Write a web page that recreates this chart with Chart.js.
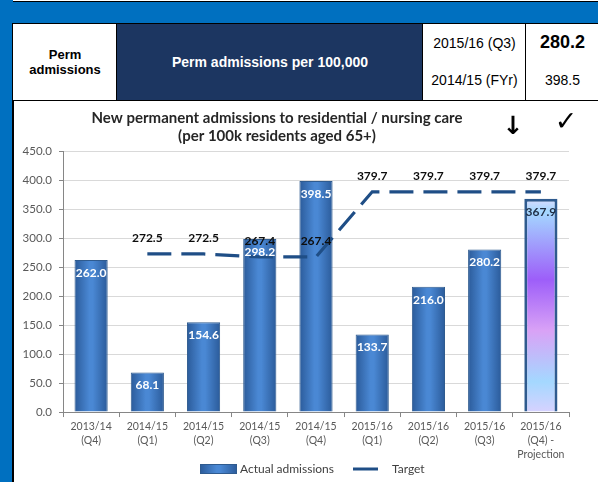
<!DOCTYPE html>
<html>
<head>
<meta charset="utf-8">
<script src="https://cdn.jsdelivr.net/npm/chart.js@4.4.1/dist/chart.umd.min.js"></script>
<style>
   body { margin: 0; width: 598px; height: 482px; overflow: hidden; background: #0070c0; font-family: 'Liberation Sans', Arial, sans-serif; position: relative; }
   .box { position: absolute; box-sizing: border-box; }
   .strip { left: 13px; top: 0; width: 585px; height: 2px; background: #fff; border-bottom: 1px solid #000; }
   .cell { top: 23px; height: 78px; border: 1.5px solid #000; display: flex; align-items: center; justify-content: center; text-align: center; }
   .c1 { left: 12px; width: 106px; background: #fff; font-weight: bold; font-size: 13px; line-height: 15px; color: #000; }
   .c2 { left: 116px; width: 308px; background: #1c3661; color: #fff; font-weight: bold; font-size: 14px; }
   .c3 { left: 422px; width: 105px; background: #fff; font-size: 14px; color: #000; }
   .c4 { left: 525px; width: 75px; background: #fff; color: #000; }
   .row { position: absolute; left: 0; right: 0; text-align: center; }
   .chartbox { left: 12px; top: 100px; width: 586px; height: 382px; background: #fff; border-left: 2px solid #000; border-top: 1px solid #000; }
   #wrap { position: absolute; left: 14px; top: 101px; width: 584px; height: 381px; }
</style>
</head>
<body>
<div class="box strip"></div>
<div class="box cell c1">Perm<br>admissions</div>
<div class="box cell c2">Perm admissions per 100,000</div>
<div class="box cell c3"><div class="row" style="top:11px">2015/16 (Q3)</div><div class="row" style="top:48px">2014/15 (FYr)</div></div>
<div class="box cell c4"><div class="row" style="top:8px;font-size:18px;font-weight:bold">280.2</div><div class="row" style="top:48px;font-size:14px">398.5</div></div>
<div class="box chartbox"></div>
<div id="wrap"><canvas id="chart" width="584" height="381"></canvas></div>
<script>
// chart values
const categories = [
   ['2013/14', '(Q4)'],
   ['2014/15', '(Q1)'],
   ['2014/15', '(Q2)'],
   ['2014/15', '(Q3)'],
   ['2014/15', '(Q4)'],
   ['2015/16', '(Q1)'],
   ['2015/16', '(Q2)'],
   ['2015/16', '(Q3)'],
   ['2015/16', '(Q4) -', 'Projection']
];
const actualAdmissions = [262.0, 68.1, 154.6, 298.2, 398.5, 133.7, 216.0, 280.2, 367.9];
const target = [null, 272.5, 272.5, 267.4, 267.4, 379.7, 379.7, 379.7, 379.7];
const projectionIndex = 8;
const titleLines = ['New permanent admissions to residential / nursing care', '(per 100k residents aged 65+)'];

const chartFont = "'Lato', 'Open Sans', sans-serif";
const navy = '#1f4e86';

function blueGradient(ctx, x0, x1) {
   let g = ctx.createLinearGradient(x0, 0, x1, 0);
   g.addColorStop(0, '#2b5b9a');
   g.addColorStop(0.45, '#4a88d4');
   g.addColorStop(0.55, '#4a88d4');
   g.addColorStop(1, '#2b5b9a');
   return g;
}

function projectionGradient(ctx, y0, y1) {
   let g = ctx.createLinearGradient(0, y0, 0, y1);
   g.addColorStop(0, '#dcdcff');
   g.addColorStop(0.06, '#a4d8ff');
   g.addColorStop(0.38, '#9d5ef9');
   g.addColorStop(0.62, '#d9a2f6');
   g.addColorStop(0.86, '#a4d8ff');
   g.addColorStop(1, '#d6d2ff');
   return g;
}

// gradients need the bar geometry, so they are set just before drawing
let barFillPlugin = {
   id: 'barfill',
   beforeDatasetsDraw: (chart) => {
      const ctx = chart.ctx;
      chart.getDatasetMeta(0).data.forEach((el, i) => {
         if (i === projectionIndex) {
            el.options.backgroundColor = projectionGradient(ctx, el.y, el.base);
         } else {
            el.options.backgroundColor = blueGradient(ctx, el.x - el.width / 2, el.x + el.width / 2);
         }
      });
   }
};

let valueLabelPlugin = {
   id: 'valuelabels',
   afterDatasetsDraw: (chart) => {
      const ctx = chart.ctx;
      ctx.save();
      ctx.textAlign = 'center';
      ctx.textBaseline = 'middle';
      ctx.font = 'bold 12px ' + chartFont;
      chart.getDatasetMeta(0).data.forEach((el, i) => {
         ctx.fillStyle = i === projectionIndex ? '#1f2d44' : '#ffffff';
         ctx.fillText(actualAdmissions[i].toFixed(1), el.x, el.y + 13);
      });
      ctx.fillStyle = '#0d0d0d';
      chart.getDatasetMeta(1).data.forEach((el, i) => {
         if (target[i] === null) return;
         ctx.fillText(target[i].toFixed(1), el.x, el.y - 16);
      });
      ctx.restore();
   }
};

let decorPlugin = {
   id: 'decor',
   afterDraw: (chart) => {
      const ctx = chart.ctx;
      ctx.save();
      // title
      ctx.fillStyle = '#262626';
      ctx.textAlign = 'center';
      ctx.textBaseline = 'middle';
      ctx.font = 'bold 15px ' + chartFont;
      ctx.fillText(titleLines[0], 263, 17);
      ctx.fillText(titleLines[1], 263, 35);
      ctx.fillStyle = '#000';
      ctx.font = 'bold 25px "DejaVu Sans"';
      ctx.fillText('\u2193', 499, 26);
      ctx.font = '27px "DejaVu Sans"';
      ctx.fillText('\u2713', 552, 22);

      // legend
      const ly = 368;
      ctx.fillStyle = blueGradient(ctx, 186, 223);
      ctx.fillRect(186, ly - 5, 37, 10);
      ctx.strokeStyle = '#2f5b8f';
      ctx.lineWidth = 1;
      ctx.strokeRect(186.5, ly - 4.5, 36, 9);
      ctx.strokeStyle = navy;
      ctx.lineWidth = 3;
      ctx.beginPath();
      ctx.moveTo(339, ly);
      ctx.lineTo(364, ly);
      ctx.stroke();
      ctx.fillStyle = '#404040';
      ctx.textAlign = 'left';
      ctx.font = '12px ' + chartFont;
      ctx.fillText('Actual admissions', 226, ly);
      ctx.fillText('Target', 378, ly);
      ctx.restore();
   }
};

new Chart(document.getElementById('chart'), {
   type: 'bar',
   data: {
      labels: categories,
      datasets: [{
         label: 'Actual admissions',
         data: actualAdmissions,
         backgroundColor: (c) => c.dataIndex === projectionIndex ? '#b0b8ff' : '#3f7bc6',
         borderColor: '#2f5b8f',
         borderWidth: (c) => c.dataIndex === projectionIndex ? 3 : 1,
         barPercentage: 0.59,
         categoryPercentage: 1,
         order: 1
      }, {
         type: 'line',
         label: 'Target',
         data: target,
         borderColor: navy,
         borderWidth: 3.2,
         borderDash: [24, 10],
         pointRadius: 0,
         fill: false,
         tension: 0,
         order: 0
      }]
   },
   options: {
      responsive: false,
      animation: false,
      events: [],
      layout: {
         padding: { top: 50, left: 5, right: 29, bottom: 18 }
      },
      plugins: {
         legend: { display: false },
         title: { display: false },
         tooltip: { enabled: false }
      },
      scales: {
         x: {
            grid: {
               display: true,
               drawOnChartArea: false,
               offset: true,
               tickLength: 5,
               color: '#868686'
            },
            border: { color: '#868686' },
            ticks: {
               color: '#595959',
               padding: 3,
               maxRotation: 0,
               autoSkip: false,
               font: { family: chartFont, size: 10.5, lineHeight: 1.3 }
            }
         },
         y: {
            min: 0,
            max: 450,
            afterFit: (scale) => { scale.width = 44; },
            grid: {
               color: '#d9d9d9',
               tickColor: '#868686',
               tickLength: 4
            },
            border: { color: '#868686' },
            ticks: {
               stepSize: 50,
               padding: 7,
               color: '#595959',
               font: { family: chartFont, size: 11.5 },
               callback: (v) => v.toFixed(1)
            }
         }
      }
   },
   plugins: [barFillPlugin, valueLabelPlugin, decorPlugin]
});
</script>
</body>
</html>
